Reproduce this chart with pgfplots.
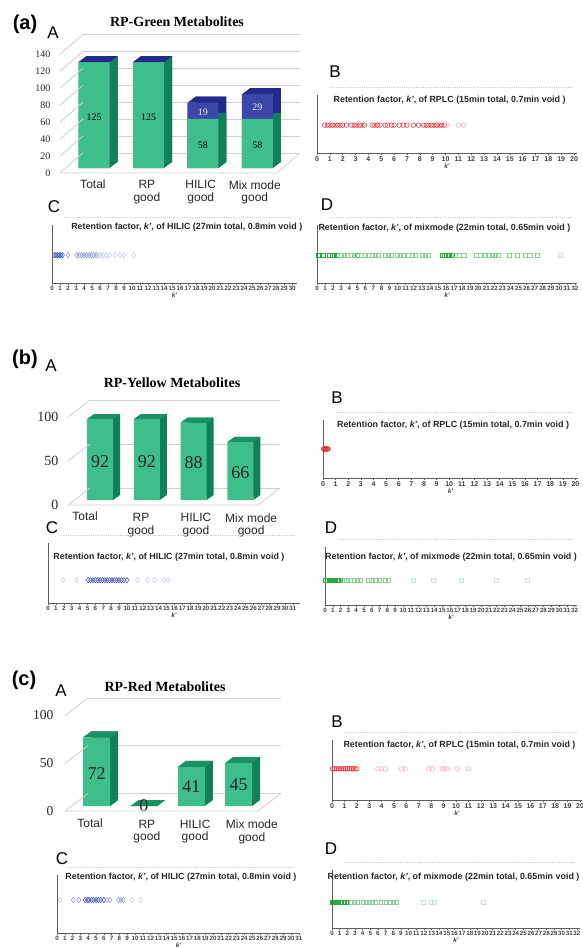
\documentclass[border=0pt]{standalone}
\usepackage{pgfplots}
\pgfplotsset{compat=1.18}
\usepackage{fontspec}
\setmainfont{Liberation Serif}
\setsansfont{Liberation Sans}
\definecolor{barG}{RGB}{62,190,140}
\definecolor{barGd}{RGB}{16,128,88}
\definecolor{barGt}{RGB}{26,146,102}
\definecolor{barB}{RGB}{62,70,168}
\definecolor{barBd}{RGB}{34,42,138}
\definecolor{gridc}{RGB}{208,208,208}
\definecolor{rpl}{RGB}{225,40,50}
\definecolor{hil}{RGB}{60,80,175}
\definecolor{mix}{RGB}{40,170,60}
\definecolor{axc}{RGB}{95,95,95}

\pgfdeclareplotmark{topA}{\pgfpathmoveto{\pgfqpoint{-15.5pt}{0pt}}\pgfpathlineto{\pgfqpoint{15.5pt}{0pt}}\pgfpathlineto{\pgfqpoint{23.5pt}{6pt}}\pgfpathlineto{\pgfqpoint{-7.5pt}{6pt}}\pgfpathclose\pgfusepathqfill}
\pgfdeclareplotmark{botA}{\pgfpathmoveto{\pgfqpoint{15.5pt}{0pt}}\pgfpathlineto{\pgfqpoint{23.5pt}{6pt}}\pgfpathlineto{\pgfqpoint{15.5pt}{6pt}}\pgfpathclose\pgfusepathqfill}
\pgfdeclareplotmark{topB}{\pgfpathmoveto{\pgfqpoint{-13pt}{0pt}}\pgfpathlineto{\pgfqpoint{13pt}{0pt}}\pgfpathlineto{\pgfqpoint{20pt}{5pt}}\pgfpathlineto{\pgfqpoint{-6pt}{5pt}}\pgfpathclose\pgfusepathqfill}
\pgfdeclareplotmark{botB}{\pgfpathmoveto{\pgfqpoint{13pt}{0pt}}\pgfpathlineto{\pgfqpoint{20pt}{5pt}}\pgfpathlineto{\pgfqpoint{13pt}{5pt}}\pgfpathclose\pgfusepathqfill}
\pgfdeclareplotmark{topC}{\pgfpathmoveto{\pgfqpoint{-13.5pt}{0pt}}\pgfpathlineto{\pgfqpoint{13.5pt}{0pt}}\pgfpathlineto{\pgfqpoint{21.5pt}{6pt}}\pgfpathlineto{\pgfqpoint{-5.5pt}{6pt}}\pgfpathclose\pgfusepathqfill}
\pgfdeclareplotmark{botC}{\pgfpathmoveto{\pgfqpoint{13.5pt}{0pt}}\pgfpathlineto{\pgfqpoint{21.5pt}{6pt}}\pgfpathlineto{\pgfqpoint{13.5pt}{6pt}}\pgfpathclose\pgfusepathqfill}

\pgfplotsset{
  bar3d/.style={scale only axis, anchor=south west, clip=false,
    axis line style={draw=none}, major tick length=0pt, ymajorgrids,
    xticklabel style={font=\sffamily\fontsize{12}{12.5}\selectfont, align=center, anchor=north, text=black!85},
    yticklabel style={text=black!85},
    /pgf/number format/assume math mode=true},
  strip/.style={scale only axis, anchor=south west, clip=false,
    ymin=0, ytick=\empty,
    axis x line*=bottom, axis y line*=left,
    axis line style={draw=axc, line width=0.9pt},
    tick align=outside, major tick length=2pt,
    tick style={draw=axc, line width=0.5pt},
    xticklabel style={font=\sffamily\bfseries\fontsize{7}{7}\selectfont, text=black!75, inner sep=1.2pt},
    /pgf/number format/assume math mode=true,
    xlabel={\textit{k'}},
    xlabel style={font=\sffamily\bfseries\fontsize{6.5}{6.5}\selectfont, text=black!75, inner sep=1pt},
    title style={font=\sffamily\bfseries\fontsize{8.9}{9}\selectfont, text=black!85, anchor=center, yshift=-6pt},
    after end axis/.code={\draw[black!18, densely dotted, line width=0.9pt] (rel axis cs:0.05,1.13) -- (rel axis cs:0.98,1.13);}},
  rpD/.style={only marks, mark=o, mark size=2.3pt, mark options={draw=rpl, line width=0.5pt}},
  rpL/.style={only marks, mark=o, mark size=2.3pt, mark options={draw=rpl!40, line width=0.5pt}},
  hiD/.style={only marks, mark=diamond, mark size=2.7pt, mark options={draw=hil, line width=0.5pt}},
  hiM/.style={only marks, mark=diamond, mark size=2.7pt, mark options={draw=hil!60, line width=0.5pt}},
  hiL/.style={only marks, mark=diamond, mark size=2.7pt, mark options={draw=hil!30, line width=0.5pt}},
  mxD/.style={only marks, mark=square, mark size=2.1pt, mark options={draw=mix, line width=0.5pt}},
  mxM/.style={only marks, mark=square, mark size=2.1pt, mark options={draw=mix!55, line width=0.5pt}},
  mxL/.style={only marks, mark=square, mark size=2.1pt, mark options={draw=mix!28, line width=0.5pt}},
}

\begin{document}
\begin{tikzpicture}
\path[use as bounding box] (0,0) rectangle (583pt,-948pt);

% ---------------- panel labels ----------------
\node[font=\sffamily\bfseries\fontsize{20}{20}\selectfont] at (25pt,-24pt) {(a)};
\node[font=\sffamily\bfseries\fontsize{20}{20}\selectfont] at (25pt,-359pt) {(b)};
\node[font=\sffamily\bfseries\fontsize{20}{20}\selectfont] at (24pt,-680pt) {(c)};
\foreach \x/\y/\l in {53/33/A,335/72/B,54/207/C,327/205/D,51/366/A,337/398/B,52/528/C,331/528/D,61/691/A,337/722/B,62/859/C,331/849/D}
  \node[font=\sffamily\fontsize{17}{17}\selectfont] at (\x pt,-\y pt) {\l};
\node[font=\bfseries\fontsize{14}{14}\selectfont] at (177pt,-22pt) {RP-Green Metabolites};
\node[font=\bfseries\fontsize{14}{14}\selectfont] at (172pt,-383pt) {RP-Yellow Metabolites};
\node[font=\bfseries\fontsize{14}{14}\selectfont] at (165pt,-687pt) {RP-Red Metabolites};

% ---------------- (a) A ----------------
\begin{axis}[bar3d, at={(60pt,-168pt)}, width=217pt, height=118.7pt,
  xmin=-0.624, xmax=3.358, ymin=0, ymax=140, ytick={0,20,...,140},
  yticklabel style={font=\fontsize{10}{10}\selectfont, xshift=-6pt, yshift=-5pt},
  major grid style={gridc, line width=0.8pt, xshift=23pt, yshift=15pt},
  xtick={-0.02,0.97,1.96,2.95},
  xticklabels={{\mbox{}\\[-4.5pt]Total},{RP\\good},{HILIC\\good},{Mix mode\\good}},
  xticklabel style={yshift=-9pt},
  after end axis/.code={
    \foreach \t in {0,20,...,140} {\draw[gridc, line width=0.8pt] ([yshift=-5pt]axis cs:-0.624,\t) -- ++(23pt,20pt);}
    \draw[gridc, line width=0.8pt] ([yshift=-5pt]axis cs:-0.624,0) -- ([yshift=-5pt]axis cs:3.358,0) -- ++(23pt,20pt);
  }]
\addplot[ybar, bar width=31pt, fill=barBd, draw=none, xshift=8pt, yshift=6pt] coordinates {(0,125) (1,125) (2,77) (3,87)};
\addplot[ybar, bar width=31pt, fill=barGd, draw=none, xshift=8pt, yshift=6pt] coordinates {(0,125) (1,125) (2,58) (3,58)};
\addplot[only marks, mark=botA, mark options={fill=barGd, draw=none}] coordinates {(0,0) (1,0) (2,0) (3,0)};
\addplot[ybar, bar width=31pt, fill=barB, draw=none] coordinates {(0,125) (1,125) (2,77) (3,87)};
\addplot[ybar, bar width=31pt, fill=barG, draw=none] coordinates {(0,125) (1,125) (2,58) (3,58)};
\addplot[only marks, mark=topA, mark options={fill=barBd, draw=none}] coordinates {(0,125) (1,125) (2,77) (3,87)};
\addplot[draw=none, mark=none, nodes near coords, point meta=explicit symbolic, nodes near coords align={center},
  every node near coord/.append style={font=\fontsize{10}{10}\selectfont, text=black}]
  coordinates {(0,60) [125] (1,60) [125] (2,27) [58] (3,27) [58]};
\addplot[draw=none, mark=none, nodes near coords, point meta=explicit symbolic, nodes near coords align={center},
  every node near coord/.append style={font=\fontsize{10}{10}\selectfont, text=white!92!blue}]
  coordinates {(2,66) [19] (3,72) [29]};
\end{axis}

% ---------------- (a) B ----------------
\begin{axis}[strip, at={(317pt,-153pt)}, width=260pt, height=58pt, xmin=0, xmax=20.23, ymax=2.083,
  xtick={0,...,20}, title={Retention factor, \textit{k'}, of RPLC (15min total, 0.7min void )},
  title style={at={(0.51,0.91)}}]
\addplot[rpD] coordinates {(0.6,1) (0.8,1) (1.0,1) (1.2,1) (1.4,1) (1.6,1) (1.8,1) (2.0,1) (2.3,1) (2.7,1) (2.9,1) (3.1,1) (3.3,1) (3.5,1) (3.7,1) (4.3,1) (4.5,1) (4.7,1) (4.9,1) (5.3,1) (5.5,1) (5.8,1) (6.0,1) (6.4,1) (6.7,1) (7.0,1) (7.5,1) (7.9,1) (8.3,1) (8.5,1) (8.7,1) (8.9,1) (9.1,1) (9.3,1) (9.5,1) (9.7,1) (9.9,1)};
\addplot[rpL] coordinates {(10.1,1) (11.0,1) (11.4,1)};
\end{axis}

% ---------------- (a) C ----------------
\begin{axis}[strip, at={(52pt,-283pt)}, width=245pt, height=58pt, xmin=0, xmax=30.6, ymax=2.083,
  xticklabel style={font=\sffamily\bfseries\fontsize{6.2}{6.2}\selectfont},
  xtick={0,...,30}, title={Retention factor, \textit{k'}, of HILIC (27min total, 0.8min void )},
  title style={at={(0.55,0.965)}}]
\addplot[hiD] coordinates {(0.3,1) (0.5,1) (0.7,1) (0.9,1) (1.1,1) (1.3,1)};
\addplot[hiM] coordinates {(2.0,1) (3.1,1) (3.4,1) (3.7,1) (4.0,1) (4.3,1) (4.6,1) (4.9,1) (5.2,1) (5.5,1)};
\addplot[hiL] coordinates {(5.8,1) (6.1,1) (6.4,1) (6.8,1) (7.2,1) (7.9,1) (8.5,1) (9.0,1) (10.2,1)};
\end{axis}

% ---------------- (a) D ----------------
\begin{axis}[strip, at={(317pt,-283pt)}, width=260pt, height=58pt, xmin=0, xmax=32.25, ymax=2.083,
  xticklabel style={font=\sffamily\bfseries\fontsize{6.2}{6.2}\selectfont},
  xtick={0,...,32}, title={Retention factor, \textit{k'}, of mixmode (22min total, 0.65min void )},
  title style={at={(0.49,0.95)}}]
\addplot[mxD] coordinates {(0.2,1) (0.74,1) (1.57,1) (1.86,1) (2.15,1) (2.56,1) (5.04,1) (15.5,1) (15.79,1) (16.1,1) (16.4,1) (16.8,1)};
\addplot[mxM] coordinates {(2.98,1) (3.39,1) (3.8,1) (4.21,1) (4.63,1) (5.45,1) (5.99,1) (6.4,1) (6.82,1) (7.23,1) (7.64,1) (8.47,1) (8.88,1) (9.17,1) (9.92,1) (10.33,1) (10.74,1) (11.36,1) (11.78,1) (12.19,1) (13.02,1) (13.43,1) (13.84,1) (17.1,1) (17.6,1) (18.2,1) (19.8,1) (20.2,1) (20.9,1) (21.3,1) (21.7,1) (22.1,1) (22.5,1) (23.8,1) (24.8,1) (25.8,1) (26.4,1) (27.3,1)};
\addplot[mxL] coordinates {(30.2,1)};
\end{axis}

% ---------------- (b) A ----------------
\begin{axis}[bar3d, at={(68pt,-500pt)}, width=190pt, height=88pt,
  xmin=-0.684, xmax=3.376, ymin=0, ymax=100, ytick={0,50,100},
  yticklabel style={font=\fontsize{14}{14}\selectfont, xshift=-6pt, yshift=-5pt},
  major grid style={gridc, line width=0.8pt, xshift=22pt, yshift=12pt},
  xtick={-0.32,0.876,2.05,3.23},
  xticklabels={{\mbox{}\\[-6pt]Total},{RP\\good},{HILIC\\good},{Mix mode\\good}},
  xticklabel style={yshift=-10pt},
  after end axis/.code={
    \foreach \t in {0,50,100} {\draw[gridc, line width=0.8pt] ([yshift=-5pt]axis cs:-0.684,\t) -- ++(22pt,17pt);}
    \draw[gridc, line width=0.8pt] ([yshift=-5pt]axis cs:-0.684,0) -- ([yshift=-5pt]axis cs:3.376,0) -- ++(22pt,17pt);
  }]
\addplot[ybar, bar width=26pt, fill=barGd, draw=none, xshift=7pt, yshift=5pt] coordinates {(0,92) (1,92) (2,88) (3,66)};
\addplot[only marks, mark=botB, mark options={fill=barGd, draw=none}] coordinates {(0,0) (1,0) (2,0) (3,0)};
\addplot[ybar, bar width=26pt, fill=barG, draw=none] coordinates {(0,92) (1,92) (2,88) (3,66)};
\addplot[only marks, mark=topB, mark options={fill=barGt, draw=none}] coordinates {(0,92) (1,92) (2,88) (3,66)};
\addplot[draw=none, mark=none, nodes near coords, point meta=explicit symbolic, nodes near coords align={center},
  every node near coord/.append style={font=\fontsize{18}{18}\selectfont, text=black!85}]
  coordinates {(0,43.2) [92] (1,43.2) [92] (2,43) [88] (3,30.7) [66]};
\end{axis}

% ---------------- (b) B ----------------
\begin{axis}[strip, at={(323pt,-478pt)}, width=255pt, height=58pt, xmin=0, xmax=20.2, ymax=2,
  xtick={0,...,20}, title={Retention factor, \textit{k'}, of RPLC (15min total, 0.7min void )},
  title style={at={(0.51,0.91)}}]
\addplot[rpD] coordinates {(0.05,1) (0.1,1) (0.15,1) (0.2,1) (0.25,1) (0.3,1) (0.35,1) (0.4,1)};
\end{axis}

% ---------------- (b) C ----------------
\begin{axis}[strip, at={(48pt,-603pt)}, width=252pt, height=60pt, xmin=0, xmax=31.9, ymax=2.632,
  xticklabel style={font=\sffamily\bfseries\fontsize{6.2}{6.2}\selectfont},
  xtick={0,...,31}, title={Retention factor, \textit{k'}, of HILIC (27min total, 0.8min void )},
  title style={at={(0.48,0.77)}}]
\addplot[hiD] coordinates {(5.1,1) (5.4,1) (5.7,1) (6.0,1) (6.3,1) (6.6,1) (6.9,1) (7.2,1) (7.5,1) (7.8,1) (8.1,1) (8.4,1) (8.7,1) (9.0,1) (9.3,1) (9.6,1) (10.0,1)};
\addplot[hiL] coordinates {(1.9,1) (3.6,1) (11.3,1) (12.6,1) (13.5,1) (14.7,1) (15.2,1)};
\end{axis}

% ---------------- (b) D ----------------
\begin{axis}[strip, at={(325pt,-605pt)}, width=252pt, height=58pt, xmin=0, xmax=32.3, ymax=2.326,
  xticklabel style={font=\sffamily\bfseries\fontsize{6.2}{6.2}\selectfont},
  xtick={0,...,32}, title={Retention factor, \textit{k'}, of mixmode (22min total, 0.65min void )},
  title style={at={(0.5,0.83)}}]
\addplot[mxD] coordinates {(0.1,1) (0.3,1) (0.5,1) (0.7,1) (0.9,1) (1.1,1) (1.3,1) (1.5,1) (1.7,1) (1.9,1)};
\addplot[mxM] coordinates {(2.4,1) (2.8,1) (3.2,1) (3.7,1) (4.1,1) (4.5,1) (5.6,1) (6.0,1) (6.5,1) (7.0,1) (7.7,1) (8.1,1)};
\addplot[mxL] coordinates {(11.3,1) (13.9,1) (17.5,1) (22.0,1) (25.9,1)};
\end{axis}

% ---------------- (c) A ----------------
\begin{axis}[bar3d, at={(65pt,-806pt)}, width=193pt, height=95.5pt,
  xmin=-0.67, xmax=3.41, ymin=0, ymax=100, ytick={0,50,100},
  yticklabel style={font=\fontsize{13.5}{13.5}\selectfont, xshift=-8pt, yshift=-5pt},
  major grid style={gridc, line width=0.8pt, xshift=23pt, yshift=12.5pt},
  xtick={-0.14,1.06,2.08,3.28},
  xticklabels={{\mbox{}\\[-5pt]Total},{RP\\good},{HILIC\\good},{Mix mode\\good}},
  xticklabel style={yshift=-10.5pt},
  after end axis/.code={
    \foreach \t in {0,50,100} {\draw[gridc, line width=0.8pt] ([yshift=-5pt]axis cs:-0.67,\t) -- ++(23pt,17.5pt);}
    \draw[gridc, line width=0.8pt] ([yshift=-5pt]axis cs:-0.67,0) -- ([yshift=-5pt]axis cs:3.41,0) -- ++(23pt,17.5pt);
  }]
\addplot[ybar, bar width=27pt, fill=barGd, draw=none, xshift=8pt, yshift=6pt] coordinates {(0,72) (1,0) (2,41) (3,45)};
\addplot[only marks, mark=botC, mark options={fill=barGd, draw=none}] coordinates {(0,0) (2,0) (3,0)};
\addplot[ybar, bar width=27pt, fill=barG, draw=none] coordinates {(0,72) (1,0) (2,41) (3,45)};
\addplot[only marks, mark=topC, mark options={fill=barGt, draw=none}] coordinates {(0,72) (1,0) (2,41) (3,45)};
\addplot[draw=none, mark=none, nodes near coords, point meta=explicit symbolic, nodes near coords align={center},
  every node near coord/.append style={font=\fontsize{18}{18}\selectfont, text=black!85}]
  coordinates {(0,34.5) [72] (1,0.5) [0] (2,19.9) [41] (3,22) [45]};
\end{axis}

% ---------------- (c) B ----------------
\begin{axis}[strip, at={(332pt,-800pt)}, width=250pt, height=60pt, xmin=0, xmax=20.16, ymax=1.923,
  xtick={0,...,20}, title={Retention factor, \textit{k'}, of RPLC (15min total, 0.7min void )},
  title style={at={(0.51,0.92)}}]
\addplot[rpD] coordinates {(0.05,1) (0.2,1) (0.35,1) (0.5,1) (0.65,1) (0.8,1) (0.95,1) (1.1,1) (1.25,1) (1.4,1) (1.55,1) (1.7,1) (1.85,1) (2.0,1)};
\addplot[rpL] coordinates {(3.7,1) (4.0,1) (4.3,1) (5.6,1) (5.9,1) (7.8,1) (8.1,1) (8.9,1) (9.1,1) (9.3,1) (10.1,1) (11.0,1)};
\end{axis}

% ---------------- (c) C ----------------
\begin{axis}[strip, at={(57pt,-933pt)}, width=243pt, height=58pt, xmin=0, xmax=31.15, ymax=1.754,
  xticklabel style={font=\sffamily\bfseries\fontsize{6.2}{6.2}\selectfont},
  xtick={0,...,31}, title={Retention factor, \textit{k'}, of HILIC (27min total, 0.8min void )},
  title style={at={(0.51,0.97)}}]
\addplot[hiD] coordinates {(3.6,1) (3.9,1) (4.1,1) (4.4,1) (4.7,1) (5.0,1) (5.3,1) (5.6,1) (6.0,1)};
\addplot[hiM] coordinates {(2.1,1) (2.8,1) (6.4,1) (6.8,1) (7.9,1) (8.2,1) (8.5,1)};
\addplot[hiL] coordinates {(0.4,1) (9.6,1) (10.7,1)};
\end{axis}

% ---------------- (c) D ----------------
\begin{axis}[strip, at={(332pt,-928pt)}, width=248pt, height=58pt, xmin=0, xmax=32.4, ymax=2.222,
  xticklabel style={font=\sffamily\bfseries\fontsize{6.2}{6.2}\selectfont},
  xtick={0,...,32}, title={Retention factor, \textit{k'}, of mixmode (22min total, 0.65min void )},
  title style={at={(0.49,0.88)}}]
\addplot[mxD] coordinates {(0.05,1) (0.2,1) (0.4,1) (0.6,1) (0.8,1) (1.0,1) (1.2,1) (1.4,1) (1.6,1) (1.8,1) (2.0,1)};
\addplot[mxM] coordinates {(2.5,1) (2.9,1) (3.3,1) (4.1,1) (4.5,1) (4.9,1) (5.3,1) (5.7,1) (6.5,1) (6.9,1) (7.6,1) (8.0,1) (8.4,1)};
\addplot[mxL] coordinates {(11.9,1) (13.0,1) (13.4,1) (19.8,1)};
\end{axis}

\end{tikzpicture}
\end{document}
